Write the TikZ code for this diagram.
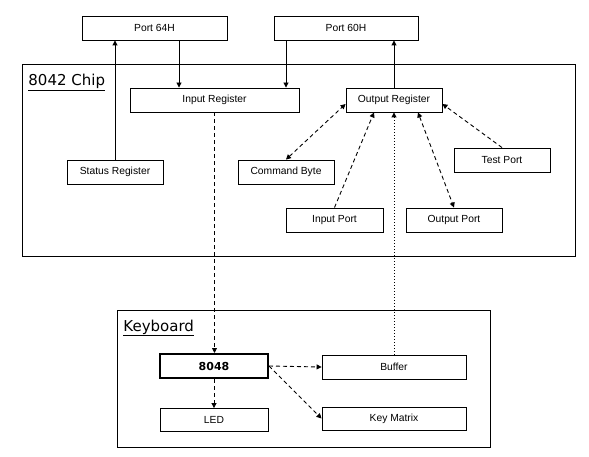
\documentclass[tikz,border=0pt]{standalone}
\usepackage{fontspec}
\setmainfont{Liberation Sans}
\newfontfamily\labelfont{DejaVu Sans}
\usetikzlibrary{arrows.meta}

\begin{document}
\begin{tikzpicture}[x=1pt,y=-1pt,line width=0.9pt,>={Triangle[length=5pt,width=5pt]},
  box/.style={draw,minimum height=24pt,inner sep=0pt,font=\fontsize{10.3}{12}\selectfont},
  title/.style={anchor=base west,inner sep=0pt,font=\labelfont\fontsize{15}{17}\selectfont},
  dashline/.style={dash pattern=on 4pt off 3pt},
  dotline/.style={dash pattern=on 1pt off 2pt}]
  \useasboundingbox (0,0) rectangle (589,457);
  % ports
  \node[box,minimum width=145pt] (p64) at (154.5,28) {Port 64H};
  \node[box,minimum width=144pt] (p60) at (346,28) {Port 60H};
  % 8042 chip
  \draw (22,64) rectangle (575,256);
  \node[title] (chip) at (28,86) {\underline{8042 Chip}};
  \node[box,minimum width=169pt] (inreg) at (214.5,100) {Input Register};
  \node[box,minimum width=96pt] (outreg) at (394,100) {Output Register};
  \node[box,minimum width=96pt] (status) at (115,172) {Status Register};
  \node[box,minimum width=96pt] (cmd) at (286,172) {Command Byte};
  \node[box,minimum width=96pt] (test) at (502,160) {Test Port};
  \node[box,minimum width=97pt] (inport) at (334.5,220) {Input Port};
  \node[box,minimum width=96pt] (outport) at (454,220) {Output Port};
  % keyboard
  \draw (117,310) rectangle (490,447);
  \node[title] (kbd) at (123,331) {\underline{Keyboard}};
  \node[box,minimum width=108pt,line width=2pt,font=\labelfont\bfseries\fontsize{11}{13}\selectfont] (c8048) at (214,366) {8048};
  \node[box,minimum width=144pt] (buffer) at (394,367) {Buffer};
  \node[box,minimum width=108pt,minimum height=23pt] (led) at (214,420) {LED};
  \node[box,minimum width=144pt,minimum height=23pt] (keymat) at (394,418.5) {Key Matrix};
  % connectors
  \draw[->] (status.north) -- (status.north |- p64.south);
  \draw[->] (p64.south -| 179,0) -- (inreg.north -| 179,0);
  \draw[->] (p60.south -| 286,0) -- (inreg.north -| 286,0);
  \draw[->] (outreg.north) -- (outreg.north |- p60.south);
  \draw[<->,dashline] (cmd.north) -- ([yshift=-4pt]outreg.west);
  \draw[->,dashline] (inport.north) -- ([xshift=-20pt]outreg.south);
  \draw[<->,dashline] ([xshift=24pt]outreg.south) -- (outport.north);
  \draw[->,dashline] (test.north) -- ([yshift=-4pt]outreg.east);
  \draw[->,dashline] (inreg.south) -- (inreg.south |- c8048.north);
  \draw[->,dotline] (buffer.north) -- (buffer.north |- outreg.south);
  \draw[->,dashline] (c8048.east) -- (buffer.west);
  \draw[->,dashline] (c8048.east) -- (keymat.west);
  \draw[->,dashline] (c8048.south) -- (led.north);
\end{tikzpicture}
\end{document}
